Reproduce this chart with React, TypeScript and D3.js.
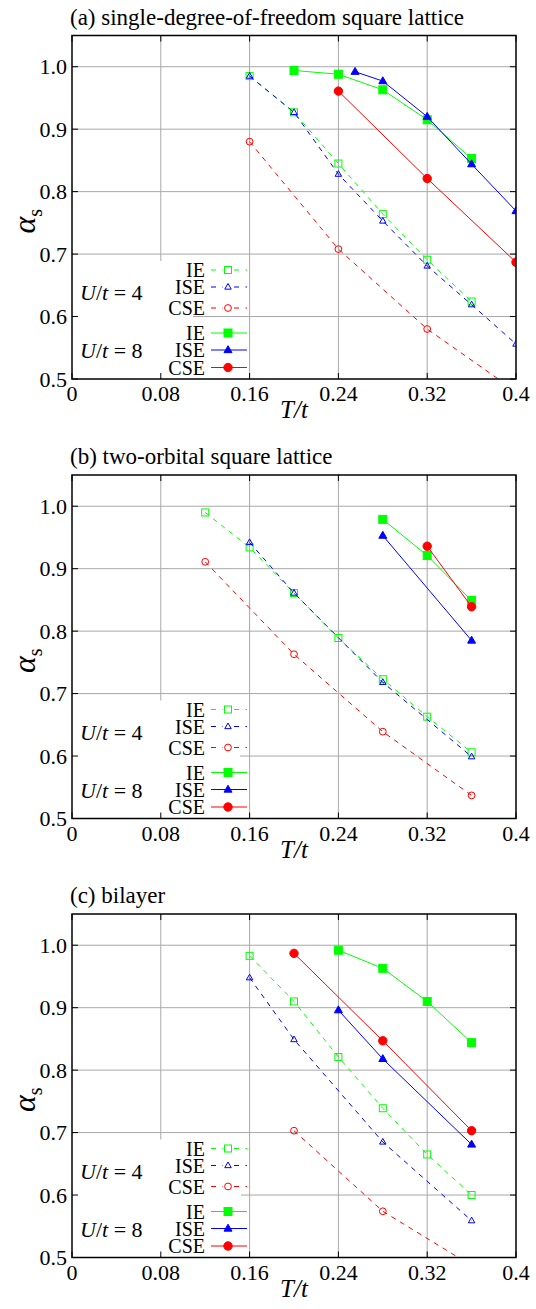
import React from "react";
import * as d3 from "d3";

// ---- data: [T/t, alpha_s] ----
const titles = [
  "(a) single-degree-of-freedom square lattice",
  "(b) two-orbital square lattice",
  "(c) bilayer",
];
const xTicks = [0, 0.08, 0.16, 0.24, 0.32, 0.4];
const xTickLabels = ["0", "0.08", "0.16", "0.24", "0.32", "0.4"];
const yTicks = [0.5, 0.6, 0.7, 0.8, 0.9, 1.0];
const yTickLabels = ["0.5", "0.6", "0.7", "0.8", "0.9", "1.0"];
const legendNames = ["IE", "ISE", "CSE"];

// panel (a)
const aIE4 = [[0.16, 0.985], [0.2, 0.927], [0.24, 0.845], [0.28, 0.764], [0.32, 0.691], [0.36, 0.624]];
const aISE4 = [[0.16, 0.985], [0.2, 0.927], [0.24, 0.828], [0.28, 0.753], [0.32, 0.681], [0.36, 0.619], [0.4, 0.556]];
const aCSE4 = [[0.16, 0.88], [0.24, 0.708], [0.32, 0.58], [0.4, 0.48]];
const aIE8 = [[0.2, 0.994], [0.24, 0.988], [0.28, 0.963], [0.32, 0.915], [0.36, 0.853]];
const aISE8 = [[0.255, 0.992], [0.28, 0.977], [0.32, 0.92], [0.36, 0.844], [0.4, 0.769]];
const aCSE8 = [[0.24, 0.961], [0.32, 0.821], [0.4, 0.687]];

// panel (b)
const bIE4 = [[0.12, 0.99], [0.16, 0.934], [0.2, 0.861], [0.24, 0.789], [0.28, 0.723], [0.32, 0.663], [0.36, 0.606]];
const bISE4 = [[0.16, 0.942], [0.2, 0.861], [0.28, 0.718], [0.36, 0.599]];
const bCSE4 = [[0.12, 0.911], [0.2, 0.763], [0.28, 0.639], [0.36, 0.537]];
const bIE8 = [[0.28, 0.979], [0.32, 0.921], [0.36, 0.849]];
const bISE8 = [[0.28, 0.953], [0.36, 0.785]];
const bCSE8 = [[0.32, 0.936], [0.36, 0.839]];

// panel (c)
const cIE4 = [[0.16, 0.983], [0.2, 0.91], [0.24, 0.821], [0.28, 0.739], [0.32, 0.665], [0.36, 0.6]];
const cISE4 = [[0.16, 0.948], [0.2, 0.849], [0.28, 0.685], [0.36, 0.559]];
const cCSE4 = [[0.2, 0.703], [0.28, 0.574], [0.36, 0.487]];
const cIE8 = [[0.24, 0.992], [0.28, 0.963], [0.32, 0.91], [0.36, 0.844]];
const cISE8 = [[0.24, 0.896], [0.28, 0.818], [0.36, 0.681]];
const cCSE8 = [[0.2, 0.987], [0.28, 0.847], [0.36, 0.703]];

const panels = [
  { u4: [aIE4, aISE4, aCSE4], u8: [aIE8, aISE8, aCSE8] },
  { u4: [bIE4, bISE4, bCSE4], u8: [bIE8, bISE8, bCSE8] },
  { u4: [cIE4, cISE4, cCSE4], u8: [cIE8, cISE8, cCSE8] },
];

// ---- style ----
const FONT = "'Liberation Serif', 'Times New Roman', serif";
const COLORS = ["#00ff00", "#0000ff", "#ff0000"];
const SHAPES = ["square", "triangle", "circle"];
const panelTops = [35.5, 475, 914];
const legendBoxRight = [193, 240, 241];
const L = 72, R = 516, PH = 343.5;
const W = 536, H = 1309;

function Marker({ shape, x, y, color, filled }: any) {
  const sw = 1;
  if (shape === "square") {
    const s = filled ? 8 : 7;
    return <rect x={x - s / 2} y={y - s / 2} width={s} height={s}
      fill={filled ? color : "none"} stroke={color} strokeWidth={sw} />;
  }
  if (shape === "triangle") {
    const s = filled ? 8 : 6.5;
    const h = s * 0.87;
    const pts = `${x},${y - h * 0.62} ${x - s / 2},${y + h * 0.38} ${x + s / 2},${y + h * 0.38}`;
    return <polygon points={pts} fill={filled ? color : "none"} stroke={color} strokeWidth={sw} />;
  }
  const r = filled ? 4.2 : 3.4;
  return <circle cx={x} cy={y} r={r} fill={filled ? color : "none"} stroke={color} strokeWidth={sw} />;
}

function Panel({ idx }: { idx: number }) {
  const top = panelTops[idx];
  const B = top + PH;
  const x = d3.scaleLinear().domain([0, 0.4]).range([L, R]);
  const y = d3.scaleLinear().domain([0.5, 1.05]).range([B, top]);
  const line = d3.line<number[]>().x((d) => x(d[0])).y((d) => y(d[1]));
  const p = panels[idx];
  const clipId = `clip${idx}`;
  const legendYs4 = [B - 109, B - 92, B - 71];
  const legendYs8 = [B - 46, B - 29, B - 11.5];
  const gridX = xTicks.filter((t) => t > 0 && t < 0.4);
  const gridY = yTicks.filter((t) => t > 0.5);
  return (
    <g>
      <defs>
        <clipPath id={clipId}>
          <rect x={L} y={top} width={R - L} height={B - top} />
        </clipPath>
      </defs>
      <text x={L - 2} y={top - 11} fontFamily={FONT} fontSize={23}>{titles[idx]}</text>
      {/* grid */}
      {gridX.map((t) => (
        <line key={"gx" + t} x1={x(t)} x2={x(t)} y1={top} y2={B} stroke="#a8a8a8" strokeWidth={1} />
      ))}
      {gridY.map((t) => (
        <line key={"gy" + t} x1={L} x2={R} y1={y(t)} y2={y(t)} stroke="#a8a8a8" strokeWidth={1} />
      ))}
      {/* legend background */}
      <rect x={L + 1} y={B - 118} width={legendBoxRight[idx] - L - 1} height={117} fill="#fff" />
      {/* ticks */}
      {xTicks.map((t) => (
        <g key={"tx" + t}>
          <line x1={x(t)} x2={x(t)} y1={B} y2={B - 6} stroke="#000" />
          <line x1={x(t)} x2={x(t)} y1={top} y2={top + 6} stroke="#000" />
        </g>
      ))}
      {yTicks.map((t) => (
        <g key={"ty" + t}>
          <line x1={L} x2={L + 6} y1={y(t)} y2={y(t)} stroke="#000" />
          <line x1={R} x2={R - 6} y1={y(t)} y2={y(t)} stroke="#000" />
        </g>
      ))}
      {/* data */}
      <g clipPath={`url(#${clipId})`}>
        {p.u4.map((s, i) => (
          <g key={"d4" + i}>
            <path d={line(s as any) || ""} fill="none" stroke={COLORS[i]} strokeWidth={1} strokeDasharray="5,5" />
            {s.map((d, j) => (
              <Marker key={j} shape={SHAPES[i]} x={x(d[0])} y={y(d[1])} color={COLORS[i]} filled={false} />
            ))}
          </g>
        ))}
        {p.u8.map((s, i) => (
          <g key={"d8" + i}>
            <path d={line(s as any) || ""} fill="none" stroke={COLORS[i]} strokeWidth={1} />
            {s.map((d, j) => (
              <Marker key={j} shape={SHAPES[i]} x={x(d[0])} y={y(d[1])} color={COLORS[i]} filled={true} />
            ))}
          </g>
        ))}
      </g>
      {/* legend */}
      {legendNames.map((n, i) => (
        <g key={"l4" + i}>
          <text x={205} y={legendYs4[i]} dy="0.35em" textAnchor="end" fontFamily={FONT} fontSize={20}>{n}</text>
          <line x1={211} x2={247} y1={legendYs4[i]} y2={legendYs4[i]} stroke={COLORS[i]} strokeDasharray="5,6.5" />
          <rect x={223} y={legendYs4[i] - 5} width={10} height={10} fill="#fff" />
          <Marker shape={SHAPES[i]} x={228} y={legendYs4[i]} color={COLORS[i]} filled={false} />
        </g>
      ))}
      {legendNames.map((n, i) => (
        <g key={"l8" + i}>
          <text x={205} y={legendYs8[i]} dy="0.35em" textAnchor="end" fontFamily={FONT} fontSize={20}>{n}</text>
          <line x1={211} x2={247} y1={legendYs8[i]} y2={legendYs8[i]} stroke={COLORS[i]} />
          <Marker shape={SHAPES[i]} x={228} y={legendYs8[i]} color={COLORS[i]} filled={true} />
        </g>
      ))}
      <text x={80} y={B - 79} fontFamily={FONT} fontSize={22}>
        <tspan fontStyle="italic">U</tspan>/<tspan fontStyle="italic">t</tspan> = 4
      </text>
      <text x={80} y={B - 21} fontFamily={FONT} fontSize={22}>
        <tspan fontStyle="italic">U</tspan>/<tspan fontStyle="italic">t</tspan> = 8
      </text>
      {/* frame */}
      <rect x={L} y={top} width={R - L} height={B - top} fill="none" stroke="#000" strokeWidth={1.5} />
      {/* tick labels */}
      {xTicks.map((t, i) => (
        <text key={"xl" + t} x={x(t)} y={B + 22} textAnchor="middle" fontFamily={FONT} fontSize={22}>{xTickLabels[i]}</text>
      ))}
      {yTicks.map((t, i) => (
        <text key={"yl" + t} x={67} y={y(t)} dy="0.35em" textAnchor="end" fontFamily={FONT} fontSize={22}>{yTickLabels[i]}</text>
      ))}
      <text x={(L + R) / 2} y={B + 39} textAnchor="middle" fontFamily={FONT} fontSize={25} fontStyle="italic">T/t</text>
      <text transform={`translate(35, ${(top + B) / 2 + 14}) rotate(-90)`} textAnchor="middle" fontFamily={FONT}>
        <tspan fontSize={32} fontStyle="italic">α</tspan>
        <tspan fontSize={20} dy={7}>s</tspan>
      </text>
    </g>
  );
}

export default function App() {
  return (
    <svg width={W} height={H} style={{ display: "block", position: "absolute", left: 0, top: 0, background: "#fff" }}>
      <rect width={W} height={H} fill="#fff" />
      {[0, 1, 2].map((i) => <Panel key={i} idx={i} />)}
    </svg>
  );
}
